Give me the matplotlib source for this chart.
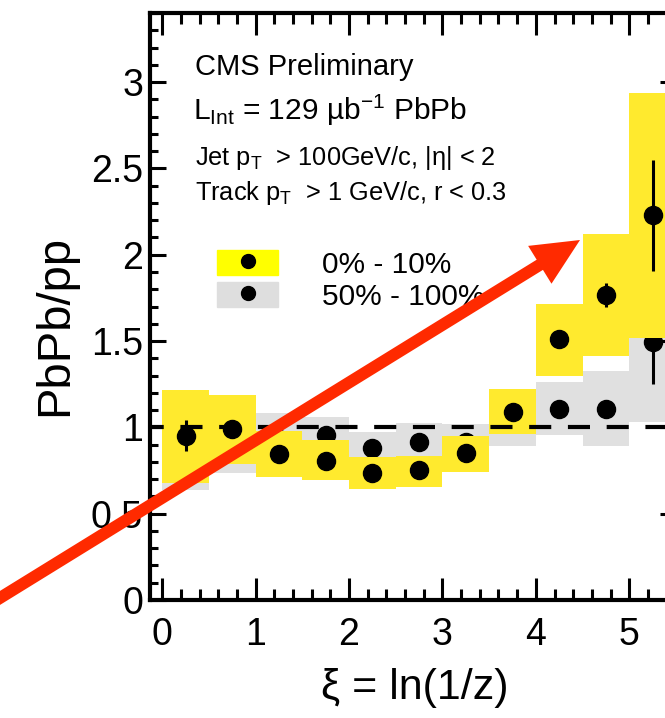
import numpy as np
import matplotlib
matplotlib.use("Agg")
import matplotlib.pyplot as plt
from matplotlib.patches import FancyArrowPatch, Patch, ArrowStyle
from matplotlib.lines import Line2D
from matplotlib.legend_handler import HandlerTuple
from matplotlib.ticker import MultipleLocator, FormatStrFormatter

plt.rcParams['font.family'] = ['Liberation Sans', 'DejaVu Sans']
plt.rcParams['mathtext.fontset'] = 'custom'
plt.rcParams['mathtext.rm'] = 'Liberation Sans'
plt.rcParams['mathtext.it'] = 'Liberation Sans:italic'

# xi bins, width 0.5
xi_centers = [0.25, 0.75, 1.25, 1.75, 2.25, 2.75, 3.25, 3.75, 4.25, 4.75, 5.25]
bin_width = 0.5

# 0% - 10% centrality
central_val = [0.951, 0.99, 0.845, 0.804, 0.737, 0.752, 0.849, 1.09, 1.509, 1.765, 2.228]
central_stat = [0.09, 0.02, 0.01, 0.01, 0.01, 0.01, 0.01, 0.01, 0.02, 0.07, 0.32]
central_sys_lo = [0.675, 0.79, 0.714, 0.694, 0.645, 0.655, 0.742, 0.96, 1.296, 1.412, 1.52]
central_sys_hi = [1.215, 1.19, 0.976, 0.924, 0.828, 0.835, 0.952, 1.225, 1.717, 2.118, 2.935]

# 50% - 100% centrality
periph_val = [0.95, 0.97, 0.93, 0.955, 0.878, 0.916, 0.915, 1.05, 1.105, 1.109, 1.495]
periph_stat = [0.05, 0.03, 0.01, 0.01, 0.01, 0.01, 0.01, 0.02, 0.02, 0.03, 0.245]
periph_sys_lo = [0.637, 0.733, 0.78, 0.85, 0.78, 0.81, 0.84, 0.891, 0.955, 0.891, 1.032]
periph_sys_hi = [1.2, 1.15, 1.084, 1.06, 0.974, 1.026, 1.018, 1.2, 1.263, 1.327, 1.96]

yellow = '#ffea2e'
grey = '#e0e0e0'

W, H = 665, 718


def px(x, y):
    # pixel position (from top-left) -> figure fraction
    return x / W, 1 - y / H


fig = plt.figure(figsize=(6.65, 7.18), dpi=100)
ax = fig.add_axes([150 / W, 118 / H, 526 / W, 587 / H])

# systematic boxes + points, peripheral first then central on top
ax.bar(xi_centers, np.array(periph_sys_hi) - np.array(periph_sys_lo), bottom=periph_sys_lo,
       width=bin_width, color=grey, linewidth=0, zorder=1)
ax.errorbar(xi_centers, periph_val, yerr=periph_stat, fmt='o', color='k', ms=13,
            elinewidth=2.2, capsize=0, zorder=2)
ax.bar(xi_centers, np.array(central_sys_hi) - np.array(central_sys_lo), bottom=central_sys_lo,
       width=bin_width, color=yellow, linewidth=0, zorder=3)
ax.axhline(1, color='k', lw=3, ls=(2, (5.3, 4.0)), zorder=4)
ax.errorbar(xi_centers, central_val, yerr=central_stat, fmt='o', color='k', ms=13,
            elinewidth=2.2, capsize=0, zorder=5)

ax.set_xlim(-0.13, 5.5)
ax.set_ylim(0, 3.4)

ax.xaxis.set_major_locator(MultipleLocator(1))
ax.xaxis.set_minor_locator(MultipleLocator(0.2))
ax.yaxis.set_major_locator(MultipleLocator(0.5))
ax.yaxis.set_minor_locator(MultipleLocator(0.1))
ax.yaxis.set_major_formatter(FormatStrFormatter('%g'))

ax.tick_params(which='both', direction='in', top=True, right=True, labelsize=27, width=2.2)
ax.tick_params(axis='x', which='major', length=16, pad=12)
ax.tick_params(axis='x', which='minor', length=8)
ax.tick_params(axis='y', which='major', length=11.5, pad=5)
ax.tick_params(axis='y', which='minor', length=6)
for sp in ax.spines.values():
    sp.set_linewidth(3)

ax.set_ylabel('PbPb/pp', fontsize=34, va='center')
ax.yaxis.set_label_coords(-0.18, 0.468)
ax.set_xlabel('ξ = ln(1/z)', fontsize=31, va='center')
ax.xaxis.set_label_coords(0.504, -0.15)

# header text
fig.text(*px(195, 75), 'CMS Preliminary', fontsize=21, va='baseline')
fig.text(*px(193, 120), 'L$_{\\mathrm{Int}}$ = 129 µb$^{-1}$ PbPb', fontsize=21.5, va='baseline')
fig.text(*px(195, 165), 'Jet p$_{\\mathrm{T}}$  > 100GeV/c, |η| < 2', fontsize=18.3, va='baseline')
fig.text(*px(195, 200), 'Track p$_{\\mathrm{T}}$  > 1 GeV/c, r < 0.3', fontsize=18.3, va='baseline')

# legend
handles = [(Patch(color='#ffff00'), Line2D([], [], ls='', marker='o', color='k', ms=10)),
           (Patch(color='#dedede'), Line2D([], [], ls='', marker='o', color='k', ms=10))]
fig.legend(handles, ['0% - 10%', '50% - 100%'], handler_map={tuple: HandlerTuple(ndivide=1)},
           loc='upper left', bbox_to_anchor=px(217, 250), bbox_transform=fig.transFigure,
           frameon=False, fontsize=21.5, handlelength=2.05, handleheight=0.93,
           handletextpad=1.45, labelspacing=0.1, borderpad=0, borderaxespad=0)

# red arrow
arrow = FancyArrowPatch(px(-5, 601), px(580, 240), transform=fig.transFigure,
                        arrowstyle=ArrowStyle.Simple(head_length=34, head_width=32, tail_width=8.6),
                        mutation_scale=1, color='#ff2a00', shrinkA=0, shrinkB=0, lw=0, zorder=10)
fig.patches.append(arrow)

fig.savefig('out.png', dpi=100)
